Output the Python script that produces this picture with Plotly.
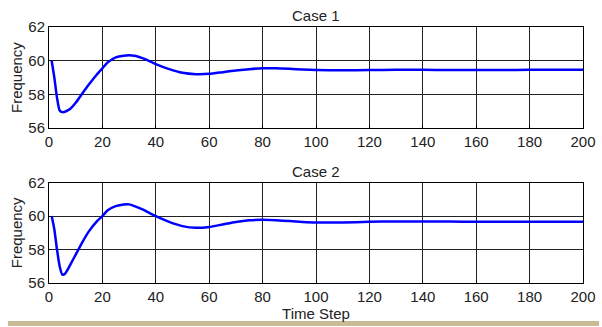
import plotly.graph_objects as go
from plotly.subplots import make_subplots

t = [1, 2, 3, 4, 5, 6, 7, 8, 10, 12, 15, 18, 20, 22, 25, 28, 30, 32, 35, 38, 40, 45, 50, 55, 60,
     65, 70, 75, 80, 85, 90, 95, 100, 110, 120, 130, 140, 150, 160, 170, 180, 190, 200]
case1 = [60.0, 59.0, 57.8, 57.05, 56.95, 56.97, 57.05, 57.15, 57.5, 57.95, 58.6, 59.2, 59.55, 59.9, 60.2, 60.3,
         60.32, 60.3, 60.15, 59.95, 59.8, 59.5, 59.28, 59.2, 59.22, 59.32, 59.42, 59.5, 59.55, 59.55,
         59.52, 59.48, 59.45, 59.43, 59.45, 59.46, 59.46, 59.45, 59.45, 59.45, 59.46, 59.46, 59.46]
case2 = [60.0, 59.2, 58.0, 57.0, 56.5, 56.55, 56.8, 57.1, 57.7, 58.3, 59.1, 59.7, 60.0, 60.35, 60.6, 60.7,
         60.7, 60.6, 60.4, 60.15, 60.0, 59.65, 59.4, 59.3, 59.35, 59.5, 59.65, 59.75, 59.78, 59.75,
         59.7, 59.65, 59.62, 59.62, 59.66, 59.68, 59.68, 59.67, 59.66, 59.66, 59.66, 59.66, 59.66]
titles = ["Case 1", "Case 2"]
x_ticks = [0, 20, 40, 60, 80, 100, 120, 140, 160, 180, 200]
y_ticks = [56, 58, 60, 62]

font = "Liberation Sans, Arial, sans-serif"
fs = 15
fig = make_subplots(rows=2, cols=1, vertical_spacing=0.2)
for i, vals in enumerate([case1, case2], start=1):
    fig.add_trace(go.Scatter(x=t, y=vals, mode="lines",
                             line=dict(color="#0000ff", width=2.5, shape="spline", smoothing=0.6),
                             showlegend=False, hoverinfo="skip"), row=i, col=1)

fig.update_xaxes(range=[0, 200], tickvals=x_ticks, showgrid=True, gridcolor="#222222", gridwidth=1,
                 showline=True, linecolor="black", linewidth=1, mirror=True,
                 ticks="inside", ticklen=3, tickcolor="black", automargin=False,
                 tickfont=dict(size=fs, color="#222222", family=font), zeroline=False)
fig.update_yaxes(range=[56, 62], tickvals=y_ticks, showgrid=True, gridcolor="#222222", gridwidth=1,
                 showline=True, linecolor="black", linewidth=1, mirror=True,
                 ticks="inside", ticklen=3, tickcolor="black", automargin=False,
                 tickfont=dict(size=fs, color="#222222", family=font), zeroline=False,
                 title=dict(text="Frequency", font=dict(size=fs, color="#222222", family=font), standoff=2))

fig.update_layout(
    xaxis=dict(domain=[0, 1]), yaxis=dict(domain=[0.605, 1.0]),
    xaxis2=dict(domain=[0, 1], title=dict(text="Time Step", font=dict(size=fs, color="#222222", family=font), standoff=0)),
    yaxis2=dict(domain=[0.0, 0.392]),
)
fig.update_layout(
    width=602, height=327,
    margin=dict(l=49, r=19, t=27, b=44, autoexpand=False),
    paper_bgcolor="white", plot_bgcolor="white",
    font=dict(family=font, color="#222222"),
    annotations=[
        dict(text=titles[0], x=0.5, y=1.0, xref="paper", yref="paper", xanchor="center", yanchor="bottom",
             yshift=1, showarrow=False, font=dict(size=fs, color="#222222", family=font)),
        dict(text=titles[1], x=0.5, y=0.392, xref="paper", yref="paper", xanchor="center", yanchor="bottom",
             yshift=1, showarrow=False, font=dict(size=fs, color="#222222", family=font)),
    ],
    shapes=[dict(type="rect", xref="paper", yref="paper", x0=-0.077, x1=1.03, y0=-0.168, y1=-0.148,
                 fillcolor="#c8bc96", line=dict(width=0))],
)
fig.write_html("out.html", config={"displayModeBar": False},
               post_script="document.body.style.margin='0';document.body.style.overflow='hidden';")
